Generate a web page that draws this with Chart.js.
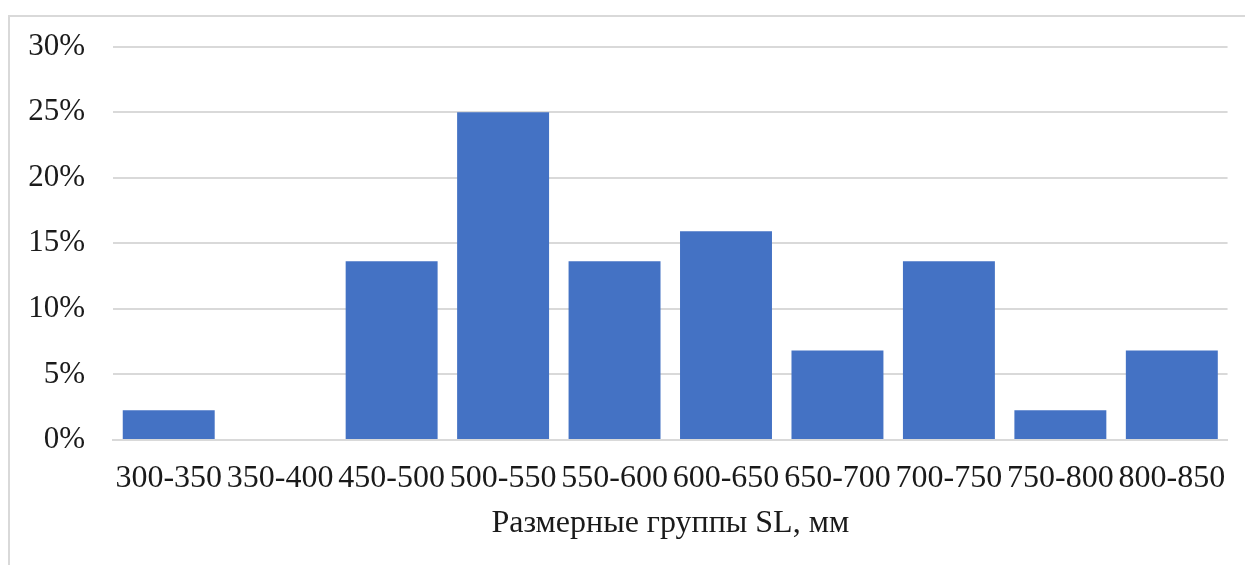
<!DOCTYPE html>
<html>
<head>
<meta charset="utf-8">
<script src="https://cdn.jsdelivr.net/npm/chart.js@4/dist/chart.umd.min.js"></script>
<style>
  html, body { margin: 0; padding: 0; background: #fff; }
  #wrap { position: relative; width: 1245px; height: 565px; overflow: hidden; }
  #frame { position: absolute; left: 8px; top: 15px; width: 1300px; height: 600px;
           border-top: 2px solid #d9d9d9; border-left: 2px solid #d9d9d9; box-sizing: border-box; }
  canvas { position: absolute; left: 0; top: 0; }
</style>
</head>
<body>
<div id="wrap">
  <div id="frame"></div>
  <canvas id="c" width="1245" height="565"></canvas>
</div>
<script>
// Size groups (standard length, mm) and their share of the sample, %
const categories = ['300-350', '350-400', '450-500', '500-550', '550-600', '600-650', '650-700', '700-750', '750-800', '800-850'];
const shares = [2.27, 0, 13.64, 25.0, 13.64, 15.91, 6.82, 13.64, 2.27, 6.82];
const yTicks = [0, 5, 10, 15, 20, 25, 30];
const xTitle = 'Размерные группы SL, мм';

const FONT = "'Liberation Serif', 'Times New Roman', serif";
const TEXT = '#1a1a1a';

new Chart(document.getElementById('c'), {
  type: 'bar',
  data: {
    labels: categories,
    datasets: [{
      data: shares,
      backgroundColor: '#4472C4',
      borderWidth: 0,
      barPercentage: 0.825,
      categoryPercentage: 1.0
    }]
  },
  options: {
    responsive: false,
    animation: false,
    devicePixelRatio: 1,
    layout: { padding: { top: 36, right: 17, bottom: 22, left: 0 } },
    plugins: { legend: { display: false }, tooltip: { enabled: false } },
    scales: {
      x: {
        afterFit: (axis) => { axis.height = 103; },
        grid: { display: false, drawTicks: false },
        border: { display: true, color: '#d9d9d9', width: 2 },
        ticks: { color: TEXT, font: { family: FONT, size: 32 }, padding: 19, maxRotation: 0, autoSkip: false },
        title: { display: true, text: xTitle, color: TEXT, font: { family: FONT, size: 32 }, padding: { top: 4, bottom: 0 } }
      },
      y: {
        min: 0,
        max: 30,
        afterBuildTicks: (axis) => { axis.ticks = yTicks.map(v => ({ value: v })); },
        afterFit: (axis) => { axis.width = 113; },
        grid: { color: '#d9d9d9', lineWidth: 2, drawTicks: false },
        border: { display: false },
        ticks: {
          color: TEXT,
          font: { family: FONT, size: 31 },
          padding: 28,
          callback: (v) => v + '%'
        }
      }
    }
  }
});
</script>
</body>
</html>
